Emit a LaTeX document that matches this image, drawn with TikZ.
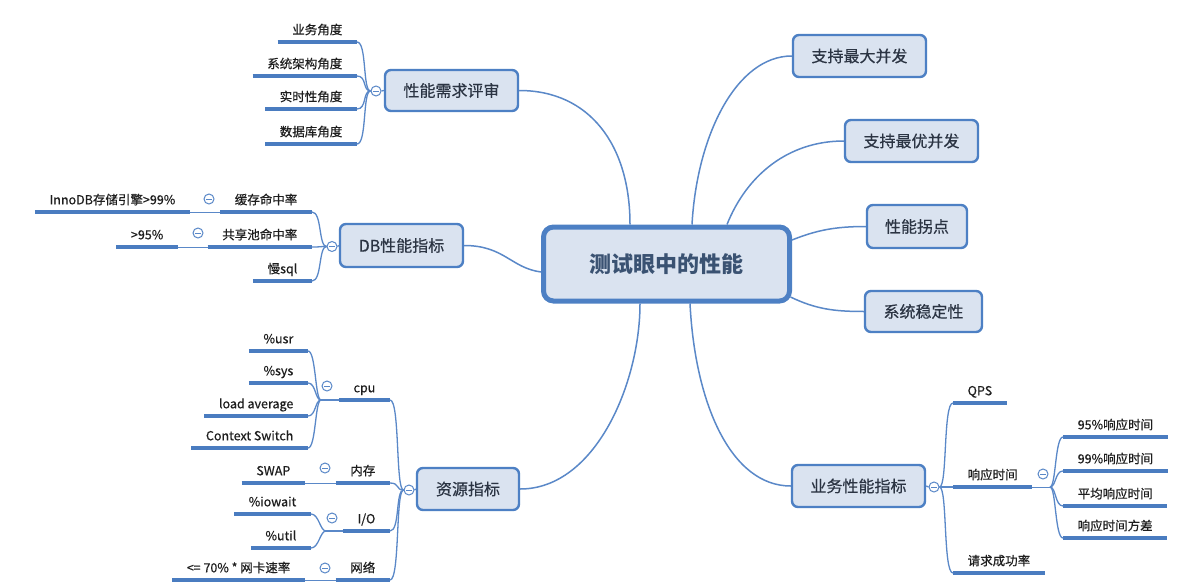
\documentclass[tikz,border=0pt]{standalone}
\usepackage{fontspec}
\setmainfont{Noto Sans CJK SC}
\newfontfamily\medfont{Noto Sans CJK SC}[FakeBold=0.5]
\definecolor{linec}{HTML}{5A88C8}
\definecolor{ulinec}{HTML}{4A7CC0}
\definecolor{boxfill}{HTML}{DAE3F0}
\definecolor{boxdraw}{HTML}{4D80C4}
\definecolor{titletext}{HTML}{3A5272}
\definecolor{boxtext}{HTML}{2B3443}
\definecolor{subtext}{HTML}{1E1E1E}
\begin{document}
\begin{tikzpicture}[x=1pt,y=-1pt,
  box/.style={draw=boxdraw, fill=boxfill, line width=2.4pt, rounded corners=6pt,
    font=\fontsize{16}{19}\selectfont\medfont, text=boxtext, inner sep=0pt},
  uline/.style={draw=ulinec, line width=3.8pt},
  sub/.style={font=\fontsize{12.5}{15}\selectfont\medfont, text=subtext, inner xsep=14.5pt,
    inner ysep=5pt, text height=10pt, text depth=2.5pt,
    append after command={(\tikzlastnode.south west) edge[uline] (\tikzlastnode.south east)}},
  subL/.style={sub, anchor=south east},
  subR/.style={sub, anchor=south west},
  conn/.style={draw=linec, line width=1.3pt},
  mainconn/.style={draw=linec, line width=1.5pt},
  thinc/.style={draw=linec, line width=0.9pt},
  col/.style={circle, draw=linec, line width=1pt, fill=white, minimum size=10pt, inner sep=0pt,
    path picture={\draw[linec, line width=1pt] ([xshift=-2.6pt]path picture bounding box.center) -- ([xshift=2.6pt]path picture bounding box.center);}}
]
\useasboundingbox[fill=white] (0,0) rectangle (1196,586);

% center
\node[draw=boxdraw, fill=boxfill, line width=5pt, rounded corners=10pt, minimum width=246pt,
  minimum height=74pt, font=\fontsize{22}{26}\selectfont\bfseries, text=titletext] (c) at (666.5,264) {测试眼中的性能};
\coordinate (ct1) at ([xshift=-36.5pt]c.north);
\coordinate (ct2) at ([xshift=25.5pt]c.north);
\coordinate (ct3) at ([xshift=60.5pt]c.north);
\coordinate (cr1) at ([yshift=24pt]c.east);
\coordinate (cr2) at ([xshift=-1.5pt,yshift=-33pt]c.east);
\coordinate (cl1) at ([yshift=-8pt]c.west);
\coordinate (cb1) at ([xshift=-26.5pt]c.south);
\coordinate (cb2) at ([xshift=23.5pt]c.south);

% level 1
\node[box, minimum width=133pt, minimum height=41pt] (xq) at (451.5,90.5) {性能需求评审};
\node[box, minimum width=123pt, minimum height=43pt] (db) at (401.5,245.5) {DB性能指标};
\node[box, minimum width=102pt, minimum height=42pt] (zy) at (468,489) {资源指标};
\node[box, minimum width=133pt, minimum height=42pt] (yw) at (858.5,486) {业务性能指标};
\node[box, minimum width=133pt, minimum height=42pt] (zd) at (859.5,56) {支持最大并发};
\node[box, minimum width=133pt, minimum height=42pt] (zyo) at (911.5,141) {支持最优并发};
\node[box, minimum width=100pt, minimum height=43pt] (gd) at (917,226.5) {性能拐点};
\node[box, minimum width=117pt, minimum height=41pt] (wd) at (923.5,311.5) {系统稳定性};

\draw[mainconn] (xq.east) .. controls +(70,0) and +(0,-80) .. (ct1);
\draw[mainconn] (ct2) .. controls +(5,-90) and +(-55,0) .. (zd.west);
\draw[mainconn] (ct3) .. controls +(20,-50) and +(-55,0) .. (zyo.west);
\draw[mainconn] (cr1) .. controls +(25,-10) and +(-30,0) .. (gd.west);
\draw[mainconn] (cr2) .. controls +(25,12) and +(-30,0) .. (wd.west);
\draw[mainconn] (db.east) .. controls +(40,0) and +(-30,-4) .. (cl1);
\draw[mainconn] (zy.east) .. controls +(75,0) and +(0,80) .. (cb1);
\draw[mainconn] (cb2) .. controls +(5,100) and +(-60,0) .. (yw.west);

% 性能需求评审 branch
\node[col] (q) at (376,91) {};
\draw[conn] (q.east) -- (xq.west);
\node[subL] (a1) at (357,42) {业务角度};
\node[subL] (a2) at (357,76) {系统架构角度};
\node[subL] (a3) at (357,109) {实时性角度};
\node[subL] (a4) at (357,144) {数据库角度};
\foreach \n in {a1,a2,a3,a4}
  \draw[conn] (\n.south east) .. controls +(10,0) and +(-8,0) .. (q.west);

% DB branch
\node[col] (d) at (332,246.5) {};
\draw[conn] (d.east) -- (db.west);
\node[subL] (b1) at (312,212) {缓存命中率};
\node[subL] (b2) at (312,247) {共享池命中率};
\node[subL] (b3) at (312,281) {慢sql};
\foreach \n in {b1,b2,b3}
  \draw[conn] (\n.south east) .. controls +(10,0) and +(-8,0) .. (d.west);
\node[subL] (g1) at (190,212) {InnoDB存储引擎>99\%};
\node[subL] (g2) at (178,247) {>95\%};
\node[col] (dg1) at (209,199) {};
\node[col] (dg2) at (198,233) {};
\draw[thinc] (g1.south east) -- (b1.south west);
\draw[thinc] (g2.south east) -- (b2.south west);

% 资源指标 branch
\node[col] (r) at (409,490) {};
\draw[conn] (r.east) -- (zy.west);
\node[subL] (cpu) at (390,400) {cpu};
\node[subL] (mem) at (390,483) {内存};
\node[subL] (io) at (390,531) {I/O};
\node[subL] (net) at (390,580) {网络};
\foreach \n in {cpu,mem,io,net}
  \draw[conn] (\n.south east) .. controls +(10,0) and +(-8,0) .. (r.west);

\node[col] (ccpu) at (327,386) {};
\coordinate (j1) at (321,400);
\draw[conn] (j1) -- (cpu.south west);
\node[subL] (u1) at (308,351) {\%usr};
\node[subL] (u2) at (308,383) {\%sys};
\node[subL] (u3) at (308,416) {load average};
\node[subL] (u4) at (308,448) {Context Switch};
\foreach \n in {u1,u2,u3,u4}
  \draw[conn] (\n.south east) .. controls +(8,0) and +(-6,0) .. (j1);

\node[col] (cmem) at (325,468) {};
\node[subL] (swap) at (305,483) {SWAP};
\draw[thinc] (swap.south east) -- (mem.south west);

\node[col] (cio) at (332,518) {};
\coordinate (j2) at (326,531);
\draw[conn] (j2) -- (io.south west);
\node[subL] (w1) at (311,514) {\%iowait};
\node[subL] (w2) at (311,548) {\%util};
\foreach \n in {w1,w2}
  \draw[conn] (\n.south east) .. controls +(8,0) and +(-6,0) .. (j2);

\node[col] (cnet) at (325,568) {};
\node[subL] (netg) at (305,580) {<= 70\% * 网卡速率};
\draw[thinc] (netg.south east) -- (net.south west);

% 业务性能指标 branch
\node[col] (y) at (934,487) {};
\draw[conn] (yw.east) -- (y.west);
\node[subR] (qps) at (953,403) {QPS};
\node[subR] (rt) at (953,487) {响应时间};
\node[subR] (ok) at (953,573) {请求成功率};
\foreach \n in {qps,rt,ok}
  \draw[conn] (y.east) .. controls +(8,0) and +(-10,0) .. (\n.south west);

\node[col] (crt) at (1043,474) {};
\coordinate (j3) at (1050,487);
\draw[thinc] (rt.south east) -- (j3);
\node[subR] (h1) at (1063,437) {95\%响应时间};
\node[subR] (h2) at (1063,471) {99\%响应时间};
\node[subR] (h3) at (1063,506) {平均响应时间};
\node[subR] (h4) at (1063,538) {响应时间方差};
\foreach \n in {h1,h2,h3,h4}
  \draw[conn] (j3) .. controls +(6,0) and +(-8,0) .. (\n.south west);
\end{tikzpicture}
\end{document}
